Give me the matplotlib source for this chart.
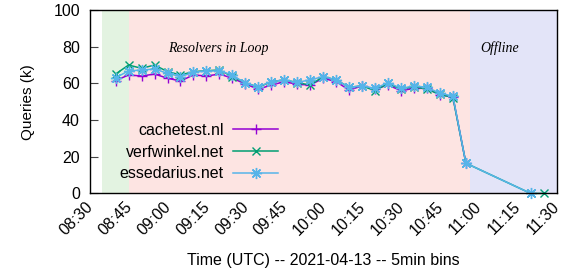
import matplotlib
matplotlib.use('Agg')
import matplotlib.pyplot as plt
import matplotlib.transforms as mtransforms

plt.rcParams['font.family'] = ['Liberation Sans', 'DejaVu Sans']

# tijdstippen van de 5min bins
bins = ['08:40', '08:45', '08:50', '08:55', '09:00', '09:05', '09:10',
        '09:15', '09:20', '09:25', '09:30', '09:35', '09:40', '09:45',
        '09:50', '09:55', '10:00', '10:05', '10:10', '10:15', '10:20',
        '10:25', '10:30', '10:35', '10:40', '10:45', '10:50', '10:55']
bins_laat = ['11:20', '11:25']

cachetest = [61.5, 64.6, 64.0, 65.1, 62.8, 61.3, 64.6, 64.0, 65.1, 62.8,
             59.7, 56.8, 59.1, 60.9, 59.5, 59.1, 62.8, 60.9, 56.4, 58.6,
             56.9, 59.1, 56.0, 57.3, 57.3, 53.7, 52.7, 16.5]
verfwinkel = [65.1, 70.0, 68.2, 70.0, 66.4, 64.6, 66.4, 66.9, 67.3, 63.7,
              60.4, 57.9, 60.9, 61.9, 60.4, 59.1, 63.7, 61.9, 57.9, 58.6,
              56.0, 60.0, 56.8, 58.2, 56.8, 54.0, 52.3, 16.5]
verfwinkel_laat = [0, 0]
essedarius = [63.1, 66.8, 67.3, 67.8, 65.5, 63.7, 66.0, 66.8, 66.8, 64.6,
              60.0, 58.2, 60.9, 61.9, 60.6, 61.9, 63.7, 61.9, 57.9, 58.6,
              57.3, 60.4, 57.3, 58.6, 57.9, 54.6, 53.1, 16.5]
essedarius_laat = [0]

ticks = ['08:30', '08:45', '09:00', '09:15', '09:30', '09:45', '10:00',
         '10:15', '10:30', '10:45', '11:00', '11:15', '11:30']

'''minuten sinds 08:30'''
def minuten(t):
    h, m = t.split(':')
    return (int(h) - 8) * 60 + int(m) - 30

x = [minuten(t) for t in bins]
x_laat = [minuten(t) for t in bins_laat]

fig = plt.figure(figsize=(5.63, 2.74), dpi=100)
ax = fig.add_axes([0.1593, 0.294, 0.8295, 0.6695])

# achtergrond fases
ax.axvspan(4.6, 15.2, color='#e3f3e1', lw=0, zorder=0)
ax.axvspan(15.2, 146.6, color='#fde4e2', lw=0, zorder=0)
ax.axvspan(146.6, 180, color='#e3e4f8', lw=0, zorder=0)

ax.text(49.6, 79, 'Resolvers in Loop', family='Liberation Serif',
        style='italic', fontsize=10, ha='center', va='center')
ax.text(158, 79, 'Offline', family='Liberation Serif',
        style='italic', fontsize=10, ha='center', va='center')

ax.plot(x, cachetest, color='#9400d3', lw=1.1, marker='+', ms=7, mew=1.0,
        label='cachetest.nl', clip_on=False, zorder=3)
ax.plot(x + x_laat, verfwinkel + verfwinkel_laat, color='#009e73', lw=1.1,
        marker='x', ms=6, mew=1.0, label='verfwinkel.net', clip_on=False,
        zorder=4)
ax.plot(x + x_laat[:1], essedarius + essedarius_laat, color='#56b4e9',
        lw=1.1, marker=(8, 2, 0), ms=8, mew=1.0, label='essedarius.net',
        clip_on=False, zorder=5)

ax.set_xlim(0, 180)
ax.set_ylim(0, 100)
ax.set_xticks([minuten(t) for t in ticks])
ax.set_xticklabels(ticks, rotation=45, ha='right', va='top', fontsize=11.5)
ax.tick_params(axis='x', length=0, pad=4)
verschuif = mtransforms.ScaledTranslation(0.06, 0, fig.dpi_scale_trans)
for lbl in ax.get_xticklabels():
    lbl.set_transform(lbl.get_transform() + verschuif)
ax.set_yticks([0, 20, 40, 60, 80, 100])
ax.tick_params(axis='y', direction='in', length=6, labelsize=11.5, pad=7,
               color='#444444')
for s in ax.spines.values():
    s.set_linewidth(1.0)
    s.set_zorder(6)

ax.set_ylabel('Queries (k)', fontsize=11, labelpad=13)
ax.set_xlabel('Time (UTC) -- 2021-04-13 -- 5min bins', fontsize=11.5,
              labelpad=11)

ax.legend(loc='upper right', bbox_to_anchor=(0.403, 0.385), frameon=False,
          markerfirst=False, fontsize=11.5, handlelength=2.8,
          handletextpad=0.6, labelspacing=0.42, borderpad=0, borderaxespad=0)

plt.savefig('out.png', dpi=100)
